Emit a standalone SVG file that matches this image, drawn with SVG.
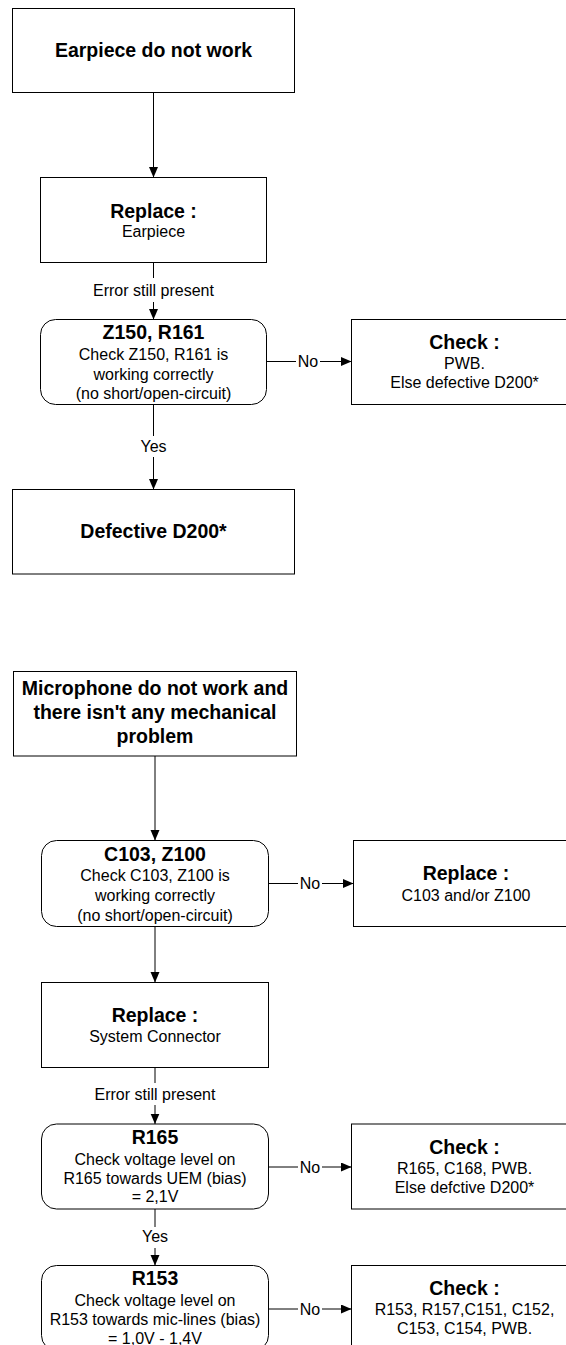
<svg xmlns="http://www.w3.org/2000/svg" width="566" height="1345" viewBox="0 0 566 1345">
<defs>
<style>
.box{fill:#fff;stroke:#000;stroke-width:1}
.ln{fill:none;stroke:#000;stroke-width:1}
.t{font-family:"Liberation Sans",Arial,sans-serif;font-size:16px;fill:#000;text-anchor:middle}
.b{font-family:"Liberation Sans",Arial,sans-serif;font-size:19.5px;font-weight:bold;fill:#000;text-anchor:middle}
</style>
<marker id="ah" markerUnits="userSpaceOnUse" markerWidth="11" markerHeight="10" refX="10.5" refY="4.5" orient="auto">
<path d="M0,0 L10.5,4.5 L0,9 z" fill="#000"/>
</marker>
</defs>
<rect width="566" height="1345" fill="#fff"/>

<g id="connectors">
<line class="ln" x1="153.5" y1="92.5" x2="153.5" y2="177.5" marker-end="url(#ah)"/>
<line class="ln" x1="153.5" y1="262.5" x2="153.5" y2="278"/>
<text class="t" x="153.5" y="296">Error still present</text>
<line class="ln" x1="153.5" y1="302" x2="153.5" y2="319.5" marker-end="url(#ah)"/>
<line class="ln" x1="266.5" y1="361.5" x2="296" y2="361.5"/>
<text class="t" x="308" y="367">No</text>
<line class="ln" x1="320" y1="361.5" x2="351.5" y2="361.5" marker-end="url(#ah)"/>
<line class="ln" x1="153.5" y1="404.5" x2="153.5" y2="436"/>
<text class="t" x="153.5" y="451.5">Yes</text>
<line class="ln" x1="153.5" y1="457" x2="153.5" y2="489.5" marker-end="url(#ah)"/>

<line class="ln" x1="155" y1="756" x2="155" y2="840.5" marker-end="url(#ah)"/>
<line class="ln" x1="268.5" y1="883.5" x2="298" y2="883.5"/>
<text class="t" x="310" y="889">No</text>
<line class="ln" x1="322" y1="883.5" x2="353.5" y2="883.5" marker-end="url(#ah)"/>
<line class="ln" x1="155" y1="926.5" x2="155" y2="982.5" marker-end="url(#ah)"/>
<line class="ln" x1="155" y1="1067.5" x2="155" y2="1083"/>
<text class="t" x="155" y="1100">Error still present</text>
<line class="ln" x1="155" y1="1105" x2="155" y2="1124" marker-end="url(#ah)"/>
<line class="ln" x1="268.5" y1="1167" x2="298" y2="1167"/>
<text class="t" x="310" y="1172.5">No</text>
<line class="ln" x1="322" y1="1167" x2="351.5" y2="1167" marker-end="url(#ah)"/>
<line class="ln" x1="155" y1="1209" x2="155" y2="1227"/>
<text class="t" x="155" y="1241.5">Yes</text>
<line class="ln" x1="155" y1="1248" x2="155" y2="1265.5" marker-end="url(#ah)"/>
<line class="ln" x1="268.5" y1="1309" x2="298" y2="1309"/>
<text class="t" x="310" y="1314.5">No</text>
<line class="ln" x1="322" y1="1309" x2="351.5" y2="1309" marker-end="url(#ah)"/>
</g>

<g id="n-earpiece-start">
<rect class="box" x="12.5" y="8.5" width="282" height="84"/>
<text class="b" x="153.5" y="57">Earpiece do not work</text>
</g>
<g id="n-replace-earpiece">
<rect class="box" x="40.5" y="177.5" width="226" height="85"/>
<text class="b" x="153.5" y="217.5">Replace :</text>
<text class="t" x="153.5" y="236.5">Earpiece</text>
</g>
<g id="n-z150">
<rect class="box" x="40.5" y="319.5" width="226" height="85" rx="15" ry="15"/>
<text class="b" x="153.5" y="339">Z150, R161</text>
<text class="t" x="153.5" y="359.5">Check Z150, R161 is</text>
<text class="t" x="153.5" y="379.5">working correctly</text>
<text class="t" x="153.5" y="399">(no short/open-circuit)</text>
</g>
<g id="n-check-pwb">
<rect class="box" x="351.5" y="319.5" width="226" height="85"/>
<text class="b" x="464.5" y="348.5">Check :</text>
<text class="t" x="464.5" y="368.5">PWB.</text>
<text class="t" x="464.5" y="387.5">Else defective D200*</text>
</g>
<g id="n-defective">
<rect class="box" x="12.5" y="489.5" width="282" height="84.5"/>
<text class="b" x="153.5" y="538">Defective D200*</text>
</g>

<g id="n-mic-start">
<rect class="box" x="13.5" y="671.5" width="283" height="84.5"/>
<text class="b" x="155" y="694.5">Microphone do not work and</text>
<text class="b" x="155" y="718.5">there isn't any mechanical</text>
<text class="b" x="155" y="742.5">problem</text>
</g>
<g id="n-c103">
<rect class="box" x="41.5" y="840.5" width="227" height="86" rx="15" ry="15"/>
<text class="b" x="155" y="860.5">C103, Z100</text>
<text class="t" x="155" y="881">Check C103, Z100 is</text>
<text class="t" x="155" y="901">working correctly</text>
<text class="t" x="155" y="920.5">(no short/open-circuit)</text>
</g>
<g id="n-replace-c103">
<rect class="box" x="353.5" y="840.5" width="227" height="86"/>
<text class="b" x="466" y="880">Replace :</text>
<text class="t" x="466" y="900.5">C103 and/or Z100</text>
</g>
<g id="n-replace-sysconn">
<rect class="box" x="41.5" y="982.5" width="227" height="85"/>
<text class="b" x="155" y="1021.5">Replace :</text>
<text class="t" x="155" y="1041.5">System Connector</text>
</g>
<g id="n-r165">
<rect class="box" x="41.5" y="1124" width="227" height="85" rx="15" ry="15"/>
<text class="b" x="155" y="1143.5">R165</text>
<text class="t" x="155" y="1164.5">Check voltage level on</text>
<text class="t" x="155" y="1183.5">R165 towards UEM (bias)</text>
<text class="t" x="155" y="1202">= 2,1V</text>
</g>
<g id="n-check-r165">
<rect class="box" x="351.5" y="1124" width="227" height="85"/>
<text class="b" x="464.5" y="1153.5">Check :</text>
<text class="t" x="464.5" y="1173.5">R165, C168, PWB.</text>
<text class="t" x="464.5" y="1192.5">Else defctive D200*</text>
</g>
<g id="n-r153">
<rect class="box" x="41.5" y="1265.5" width="227" height="85" rx="15" ry="15"/>
<text class="b" x="155" y="1284.5">R153</text>
<text class="t" x="155" y="1306">Check voltage level on</text>
<text class="t" x="155" y="1325">R153 towards mic-lines (bias)</text>
<text class="t" x="155" y="1343.5">= 1,0V - 1,4V</text>
</g>
<g id="n-check-r153">
<rect class="box" x="351.5" y="1265.5" width="227" height="85"/>
<text class="b" x="464.5" y="1295">Check :</text>
<text class="t" x="464.5" y="1315">R153, R157,C151, C152,</text>
<text class="t" x="464.5" y="1333.5">C153, C154, PWB.</text>
</g>
</svg>
